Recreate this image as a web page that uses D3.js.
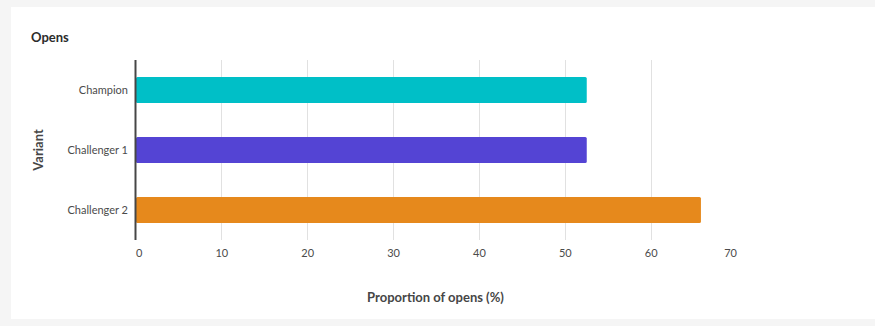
<!DOCTYPE html>
<html><head><meta charset="utf-8">
<script src="https://cdn.jsdelivr.net/npm/d3@7"></script>
<style>
html,body{margin:0;padding:0;background:#f5f5f5;}
svg{display:block;}
</style></head>
<body>
<svg id="chart" width="875" height="326"></svg>
<script>
const categories = ["Champion", "Challenger 1", "Challenger 2"];
const values = [52.5, 52.5, 65.8];
const colors = ["#00bfc7", "#5444d4", "#e6891c"];
const xTicks = [0, 10, 20, 30, 40, 50, 60, 70];
const title = "Opens";
const xTitle = "Proportion of opens (%)";
const yTitle = "Variant";

const svg = d3.select("#chart");
const font = "Lato, 'Open Sans', sans-serif";
svg.append("rect").attr("x", 11).attr("y", 7).attr("width", 864).attr("height", 312).attr("fill", "#ffffff");

const x = d3.scaleLinear().domain([0, 70]).range([136, 737]);
const y = d3.scaleBand().domain(categories).range([60, 240]).paddingInner(0.567).paddingOuter(0.283);

// gridlines
svg.append("g").selectAll("line").data(xTicks.filter(t => t > 0 && t < 70)).join("line")
  .attr("x1", d => x(d)).attr("x2", d => x(d)).attr("y1", 60).attr("y2", 240)
  .attr("stroke", "#e1e1e1").attr("stroke-width", 1).attr("shape-rendering", "crispEdges");

// bars
svg.append("g").selectAll("rect").data(categories).join("rect")
  .attr("x", x(0)).attr("y", d => y(d))
  .attr("width", (d, i) => x(values[i]) - x(0)).attr("height", y.bandwidth())
  .attr("rx", 1.5)
  .attr("fill", (d, i) => colors[i]);

// y axis line
svg.append("line").attr("x1", 135.5).attr("x2", 135.5).attr("y1", 60).attr("y2", 240)
  .attr("stroke", "#464646").attr("stroke-width", 2);

// y labels
svg.append("g").selectAll("text").data(categories).join("text")
  .attr("x", 128).attr("y", d => y(d) + y.bandwidth() / 2).attr("dy", "0.35em")
  .attr("text-anchor", "end").attr("font-family", font).attr("font-size", 11)
  .attr("fill", "#4b4b4b").text(d => d);

// x tick labels (flush)
svg.append("g").selectAll("text").data(xTicks).join("text")
  .attr("x", d => x(d)).attr("y", 257)
  .attr("text-anchor", (d, i) => i === 0 ? "start" : (i === xTicks.length - 1 ? "end" : "middle"))
  .attr("font-family", font).attr("font-size", 11).attr("fill", "#4b4b4b").text(d => d);

// titles
svg.append("text").attr("x", 31).attr("y", 42).attr("font-family", font).attr("font-weight", "bold")
  .attr("font-size", 13).attr("fill", "#2c2c2c").text(title);
svg.append("text").attr("x", x(35) - 1).attr("y", 302).attr("text-anchor", "middle")
  .attr("font-family", font).attr("font-weight", "bold").attr("font-size", 13).attr("fill", "#464646").text(xTitle);
svg.append("text").attr("transform", "translate(43,150) rotate(-90)").attr("text-anchor", "middle")
  .attr("font-family", font).attr("font-weight", "bold").attr("font-size", 13).attr("fill", "#464646").text(yTitle);
</script>
</body></html>
